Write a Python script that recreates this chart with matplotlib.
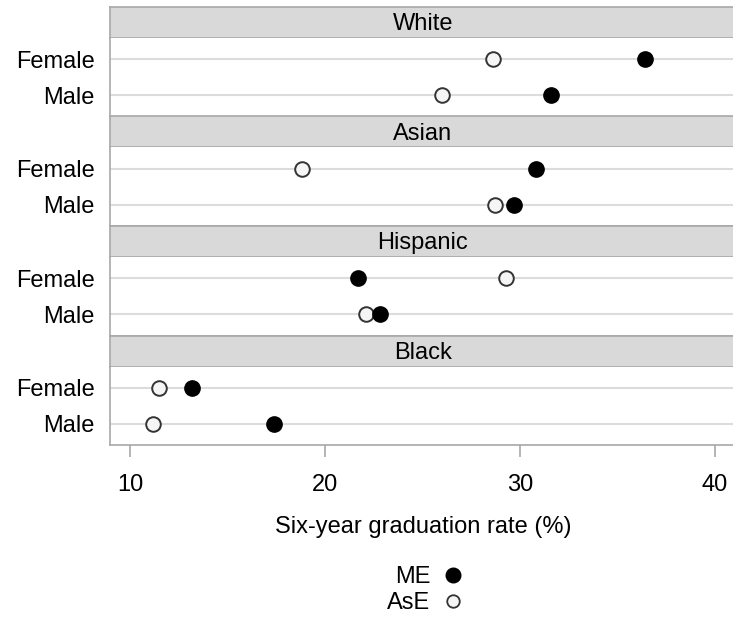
import matplotlib
matplotlib.use("Agg")
import matplotlib.pyplot as plt
from matplotlib.lines import Line2D

plt.rcParams['font.family'] = ['Liberation Sans', 'DejaVu Sans']

groups = ["White", "Asian", "Hispanic", "Black"]
sexes = ["Female", "Male"]
# six-year graduation rate (%) per group: [Female, Male]
me = {
    "White": [36.4, 31.6],
    "Asian": [30.8, 29.7],
    "Hispanic": [21.7, 22.8],
    "Black": [13.2, 17.4],
}
ase = {
    "White": [28.6, 26.0],
    "Asian": [18.8, 28.7],
    "Hispanic": [29.3, 22.1],
    "Black": [11.5, 11.2],
}
xticks = [10, 20, 30, 40]

W, H = 733, 617
fig = plt.figure(figsize=(W / 100, H / 100), dpi=100)

left, right = 110, 736
top0, step, strip_h = 7, 109.5, 31
panel_h = step - strip_h
border = "#a8a8a8"
fs = 17

def px_box(x0, y0, w, h):
    return [x0 / W, 1 - (y0 + h) / H, w / W, h / H]

for i, g in enumerate(groups):
    top = top0 + i * step
    # strip
    sax = fig.add_axes(px_box(left, top, right - left, strip_h))
    sax.set_facecolor("#d9d9d9")
    sax.set_xticks([])
    sax.set_yticks([])
    for s in sax.spines.values():
        s.set_color(border)
        s.set_linewidth(1.2)
    sax.text(0.5, 0.45, g, ha="center", va="center", fontsize=fs, transform=sax.transAxes)

    ax = fig.add_axes(px_box(left, top + strip_h, right - left, panel_h))
    ax.set_xlim(8.97, 41.08)
    ax.set_ylim(1.6, -0.6)
    for s in ["top", "right"]:
        ax.spines[s].set_visible(False)
    for s in ["left", "bottom"]:
        ax.spines[s].set_color(border)
        ax.spines[s].set_linewidth(1.2)
    ypos = list(range(len(sexes)))
    for y in ypos:
        ax.axhline(y, color="#dcdcdc", lw=1.5, zorder=1)
    ax.plot(ase[g], ypos, ls="", marker="o", ms=10.5, mfc="#f5f5f5",
            mec="#333333", mew=1.4, zorder=3)
    ax.plot(me[g], ypos, ls="", marker="o", ms=11, mfc="black",
            mec="black", mew=1, zorder=4)
    ax.set_yticks(ypos)
    ax.set_yticklabels(sexes, fontsize=fs)
    ax.tick_params(axis="y", length=0, pad=11)
    if i == len(groups) - 1:
        ax.set_xticks(xticks)
        ax.set_xticklabels([str(t) for t in xticks], fontsize=fs)
        ax.tick_params(axis="x", length=8.6, width=1.2, color=border, pad=12)
    else:
        ax.set_xticks([])

fig.text(423 / W, 1 - 527 / H, "Six-year graduation rate (%)", ha="center",
         va="center", fontsize=fs)

handles = [
    Line2D([], [], ls="", marker="o", ms=10.5, mfc="black", mec="black"),
    Line2D([], [], ls="", marker="o", ms=9, mfc="#f5f5f5", mec="#333333", mew=1.3),
]
fig.legend(handles, ["ME", "AsE"], markerfirst=False, frameon=False,
           loc="center", bbox_to_anchor=(426 / W, 1 - 590 / H), fontsize=fs,
           labelspacing=0.15, handlelength=1.0, handletextpad=0.45,
           borderpad=0)

fig.savefig("out.png", dpi=100)
